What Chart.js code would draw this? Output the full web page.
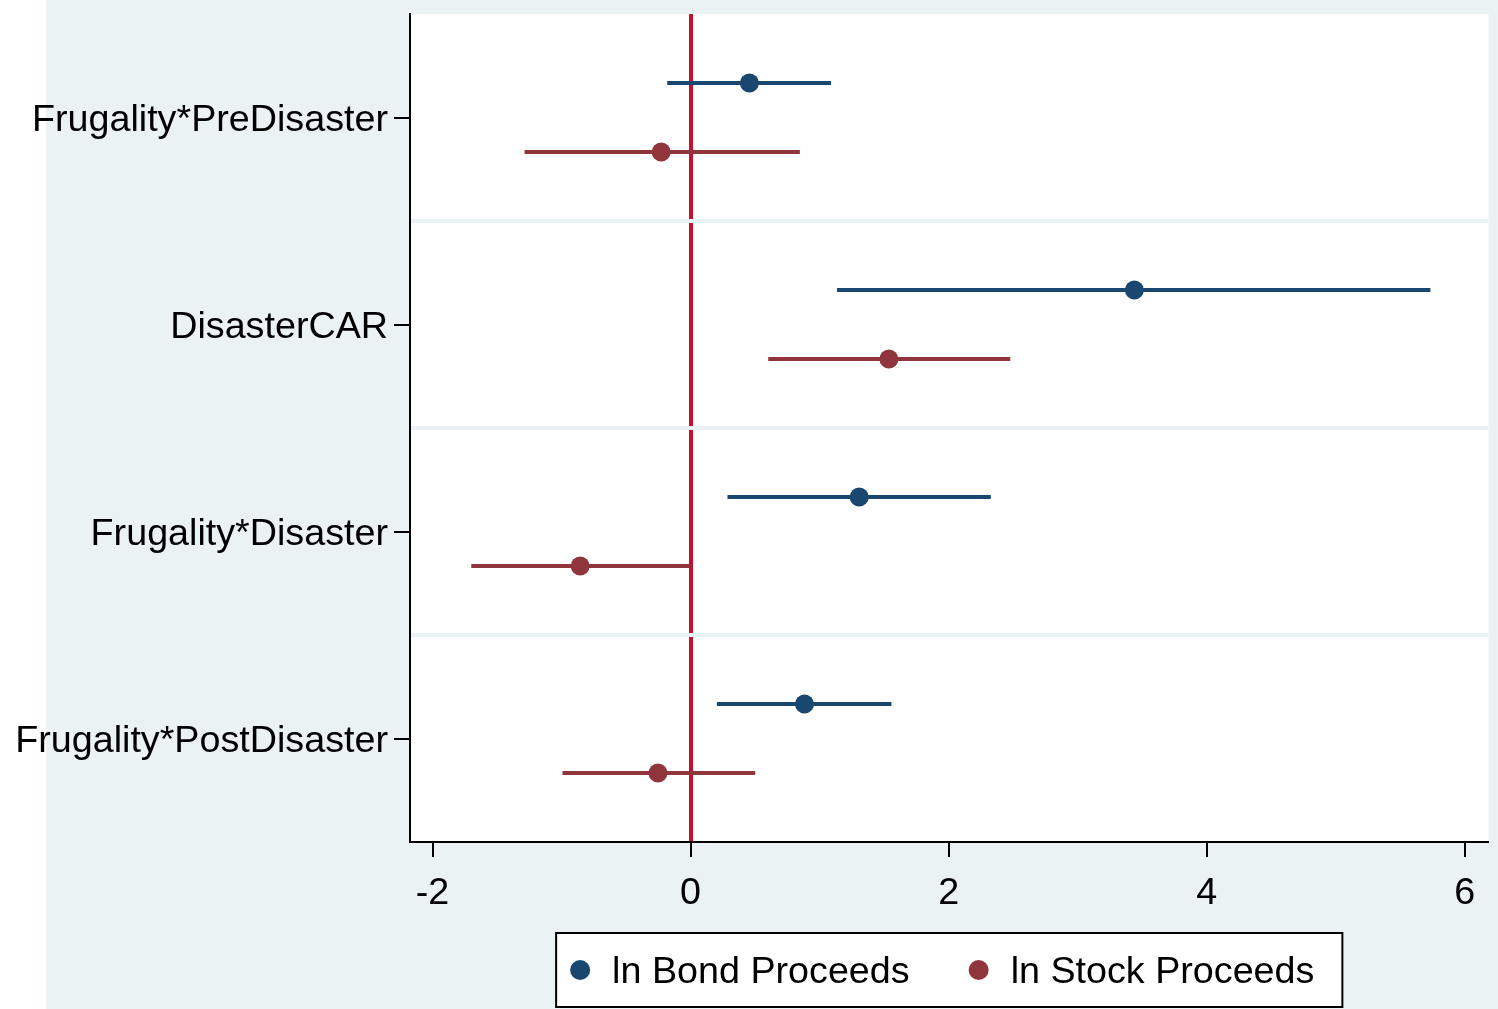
<!DOCTYPE html>
<html>
<head>
<meta charset="utf-8">
<script src="https://cdn.jsdelivr.net/npm/chart.js@4.4.1/dist/chart.umd.min.js"></script>
<style>
  html, body { margin: 0; padding: 0; background: #fff; }
</style>
</head>
<body>
<canvas id="grafico" width="1498" height="1009"></canvas>
<script>
// categorias do eixo y (de cima para baixo)
const categorias = ['Frugality*PreDisaster', 'DisasterCAR', 'Frugality*Disaster', 'Frugality*PostDisaster'];
const xTicks = [-2, 0, 2, 4, 6];

// coeficientes e intervalos de confiança
const bondCoef = [0.456, 3.44, 1.307, 0.883];
const bondLo = [-0.181, 1.135, 0.286, 0.204];
const bondHi = [1.089, 5.735, 2.327, 1.557];

const stockCoef = [-0.228, 1.537, -0.856, -0.253];
const stockLo = [-1.287, 0.602, -1.700, -0.993];
const stockHi = [0.847, 2.478, 0.0, 0.501];

const corBond = '#1A476F';
const corStock = '#90353B';
const corFundo = '#EAF2F3';
const fonte = '"Liberation Sans", Arial, sans-serif';
const tamFonte = 37.7;

Chart.defaults.font.family = fonte;
Chart.defaults.color = '#000';

// monta os datasets: linhas dos intervalos + pontos
function montarSerie(nome, coef, lo, hi, cor, desloc) {
    const linhas = coef.map((_, i) => ({
        data: [{ x: lo[i], y: i + desloc }, { x: hi[i], y: i + desloc }],
        showLine: true,
        borderColor: cor,
        borderWidth: 4,
        pointRadius: 0,
        pointHoverRadius: 0
    }));
    const pontos = {
        label: nome,
        data: coef.map((v, i) => ({ x: v, y: i + desloc })),
        backgroundColor: cor,
        borderWidth: 0,
        pointRadius: 9.5,
        pointHoverRadius: 9.5
    };
    return linhas.concat([pontos]);
}

const datasets = []
    .concat(montarSerie('ln Bond Proceeds', bondCoef, bondLo, bondHi, corBond, -0.167))
    .concat(montarSerie('ln Stock Proceeds', stockCoef, stockLo, stockHi, corStock, 0.167));

// fundo cinza-azulado e área do gráfico branca
const fundo = {
    id: 'fundo',
    beforeDraw(chart) {
        const { ctx, chartArea, width, height } = chart;
        ctx.save();
        ctx.fillStyle = '#fff';
        ctx.fillRect(0, 0, width, height);
        ctx.fillStyle = corFundo;
        ctx.fillRect(46, 0, width - 46, height);
        ctx.fillStyle = '#fff';
        ctx.fillRect(chartArea.left, chartArea.top, chartArea.right - chartArea.left, chartArea.bottom - chartArea.top);
        ctx.restore();
    }
};

// legenda com caixa, centrada sob a área do gráfico
const legendaBox = {
    id: 'legendaBox',
    afterDraw(chart) {
        const { ctx, chartArea } = chart;
        const itens = chart.data.datasets.filter(d => d.label);
        ctx.save();
        ctx.font = tamFonte + 'px ' + fonte;
        const larguras = itens.map(d => ctx.measureText(d.label).width);
        const total = 14 + larguras.reduce((s, w) => s + 20 + 22 + w, 0) + 59 * (itens.length - 1) + 28;
        const cx = (chartArea.left + chartArea.right) / 2;
        const topo = chartArea.bottom + 91;
        const alt = 74;
        let x = cx - total / 2;
        ctx.fillStyle = '#fff';
        ctx.fillRect(x, topo, total, alt);
        ctx.strokeStyle = '#000';
        ctx.lineWidth = 2;
        ctx.strokeRect(x, topo, total, alt);
        const meio = topo + 38;
        x += 14;
        ctx.textBaseline = 'middle';
        ctx.textAlign = 'left';
        itens.forEach((d, i) => {
            ctx.fillStyle = d.backgroundColor;
            ctx.beginPath();
            ctx.arc(x + 10, meio - 1, 10, 0, Math.PI * 2);
            ctx.fill();
            ctx.fillStyle = '#000';
            ctx.fillText(d.label, x + 42, meio + 2);
            x += 42 + larguras[i] + 59;
        });
        ctx.restore();
    }
};

const ctx = document.getElementById('grafico').getContext('2d');
window.grafico = new Chart(ctx, {
    type: 'scatter',
    data: { datasets: datasets },
    plugins: [fundo, legendaBox],
    options: {
        responsive: false,
        devicePixelRatio: 1,
        animation: false,
        layout: { padding: { left: 0, top: 14, right: 8, bottom: 0 } },
        plugins: {
            legend: { display: false },
            tooltip: { enabled: false }
        },
        scales: {
            x: { // horizontal
                type: 'linear',
                min: -2.175,
                max: 6.185,
                z: 1,
                afterBuildTicks: s => { s.ticks = xTicks.map(v => ({ value: v })); },
                afterFit: s => { s.height = 167; s.paddingLeft = 0; s.paddingRight = 0; },
                grid: {
                    color: c => (c.tick && c.tick.value === 0) ? '#C8102E' : 'rgba(0,0,0,0)',
                    lineWidth: c => (c.tick && c.tick.value === 0) ? 4 : 0,
                    tickColor: '#000',
                    tickWidth: 2,
                    tickLength: 15
                },
                border: { color: '#000', width: 2 },
                ticks: { font: { size: tamFonte }, color: '#000', padding: 14, callback: v => String(v) }
            },
            y: { // vertical
                type: 'linear',
                reverse: true,
                min: -0.5,
                max: 3.5,
                afterBuildTicks: s => {
                    const t = [];
                    categorias.forEach((_, i) => {
                        t.push({ value: i });
                        if (i < categorias.length - 1) t.push({ value: i + 0.5 });
                    });
                    s.ticks = t;
                },
                afterFit: s => { s.width = 410; s.paddingTop = 0; s.paddingBottom = 0; },
                grid: {
                    color: c => (c.tick && Number.isInteger(c.tick.value)) ? 'rgba(0,0,0,0)' : corFundo,
                    lineWidth: c => (c.tick && Number.isInteger(c.tick.value)) ? 0 : 4,
                    tickColor: c => (c.tick && Number.isInteger(c.tick.value)) ? '#000' : 'rgba(0,0,0,0)',
                    tickWidth: 2,
                    tickLength: 16
                },
                border: { color: '#000', width: 2 },
                ticks: {
                    autoSkip: false,
                    font: { size: tamFonte },
                    color: '#000',
                    padding: 6,
                    labelOffset: 3,
                    callback: v => Number.isInteger(v) ? categorias[v] : ''
                }
            }
        }
    }
});
</script>
</body>
</html>
